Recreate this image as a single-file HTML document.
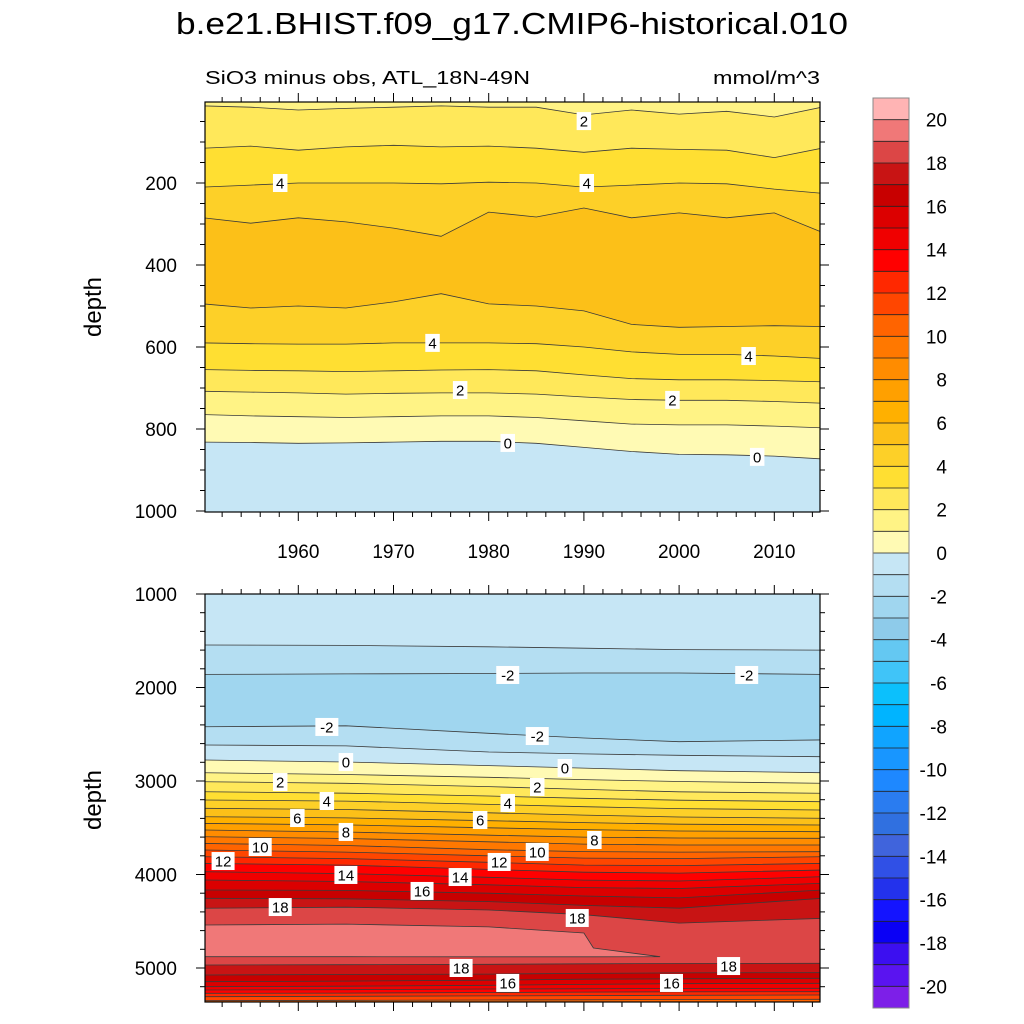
<!DOCTYPE html>
<html><head><meta charset="utf-8"><style>
html,body{margin:0;padding:0;background:#fff}
svg{display:block;font-family:"Liberation Sans",Arial,sans-serif}
</style></head><body>
<svg id="chart" width="1024" height="1024" viewBox="0 0 1024 1024" xmlns="http://www.w3.org/2000/svg">
<defs>
<clipPath id="clipTop"><rect x="205" y="102" width="615" height="410"/></clipPath>
<clipPath id="clipBot"><rect x="205" y="594" width="615" height="408"/></clipPath>
</defs>
<rect width="1024" height="1024" fill="#fff"/>
<text x="512" y="34" font-size="31" text-anchor="middle" textLength="672" lengthAdjust="spacingAndGlyphs">b.e21.BHIST.f09_g17.CMIP6-historical.010</text>
<text x="205" y="84" font-size="18" textLength="325" lengthAdjust="spacingAndGlyphs">SiO3 minus obs, ATL_18N-49N</text>
<text x="820" y="84" font-size="18" text-anchor="end" textLength="107" lengthAdjust="spacingAndGlyphs">mmol/m^3</text>
<g id="topFill" clip-path="url(#clipTop)"></g>
<g id="botFill" clip-path="url(#clipBot)"></g>
<g id="axes"></g>
<g id="labels"></g>
<g id="cbar"></g>
<text transform="translate(101,307) rotate(-90)" font-size="24" text-anchor="middle">depth</text>
<text transform="translate(101,800) rotate(-90)" font-size="24" text-anchor="middle">depth</text>
</svg>
<script>
// ---------- data ----------
const topYears = [1950,1955,1960,1965,1970,1975,1980,1985,1990,1995,2000,2005,2010,2015];
const topBandStart = 1.5;
const topLevels = [2,3,4,5,5,4,3,2,1,0];
const topBelow = [2.5,3.5,4.5,5.5,4.5,3.5,2.5,1.5,0.5,-0.5];
const topL2a = [12,15,22,18,15,12,15,15,34,22,32,25,39,15];
const topL3a = [115,110,120,112,108,112,110,115,125,115,118,120,138,115];
const topL4a = [210,205,200,200,200,202,198,200,210,205,200,202,215,225];
const topL5a = [285,298,285,295,310,330,271,283,261,285,273,285,273,320];
const topL5b = [495,505,500,505,490,470,495,500,512,545,552,550,548,550];
const topL4b = [590,592,593,593,590,590,590,592,600,612,618,618,622,628];
const topL3b = [655,657,658,660,658,656,655,658,668,677,680,680,682,685];
const topL2b = [708,710,712,715,713,712,712,715,722,728,730,730,733,737];
const topL1b = [765,768,770,772,770,768,768,772,780,788,790,790,793,797];
const topL0 = [832,833,835,834,832,830,830,835,845,855,862,863,866,873];
const topLines = [topL2a,topL3a,topL4a,topL5a,topL5b,topL4b,topL3b,topL2b,topL1b,topL0];

const botYears = [1950,1965,1980,1990,2000,2015];
const botBandStart = -0.5;
const botLevels = [-1,-2,-2,-1,0,1,2,3,4,5,6,7,8,9,10,11,12,13,14,15,16,17,18,18,17,16,15,14,13,12,11];
const botBelow = [-1.5,-2.5,-1.5,-0.5,0.5,1.5,2.5,3.5,4.5,5.5,6.5,7.5,8.5,9.5,10.5,11.5,12.5,13.5,14.5,15.5,16.5,17.5,18.5,17.5,16.5,15.5,14.5,13.5,12.5,11.5,10.5];
const botLines = [
 [1545,1550,1565,1580,1595,1600],
 [1860,1855,1850,1845,1845,1860],
 [2420,2410,2490,2540,2580,2560],
 [2615,2625,2690,2710,2725,2740],
 [2775,2797,2835,2862,2890,2911],
 [2911,2930,2960,2985,3005,3025],
 [3007,3025,3060,3090,3115,3132],
 [3114,3130,3160,3185,3205,3221],
 [3203,3215,3250,3275,3295,3310],
 [3292,3305,3340,3365,3385,3399],
 [3382,3395,3425,3445,3462,3471],
 [3453,3470,3500,3520,3535,3542],
 [3524,3545,3580,3600,3610,3613],
 [3596,3615,3650,3675,3685,3684],
 [3667,3690,3735,3755,3760,3756],
 [3738,3760,3800,3825,3830,3810],
 [3810,3830,3870,3900,3905,3881],
 [3881,3900,3945,3975,3985,3952],
 [3970,3990,4030,4060,4070,4024],
 [4059,4075,4110,4140,4150,4094],
 [4166,4170,4200,4230,4250,4166],
 [4255,4260,4290,4330,4360,4255],
 [4362,4350,4380,4430,4520,4469],
 [4968,4965,4960,4955,4952,4950],
 [5075,5070,5065,5058,5052,5050],
 [5146,5140,5130,5120,5115,5110],
 [5200,5195,5185,5175,5168,5164],
 [5235,5232,5225,5222,5219,5217],
 [5271,5268,5262,5258,5255,5253],
 [5307,5303,5298,5295,5292,5289],
 [5350,5345,5342,5340,5337,5335]
];
const patchYears = [1950,1965,1980,1990,1991,1998];
const patchUpper = [4540,4530,4560,4626,4786,4879];
const patchLower = [4879,4879,4880,4880,4880,4879];
const patchValue = 19.5;

const colorbarLevels = [20,18,16,14,12,10,8,6,4,2,0,-2,-4,-6,-8,-10,-12,-14,-16,-18,-20];
const xTickYears = [1960,1970,1980,1990,2000,2010];
const topDepthTicks = [200,400,600,800,1000];
const botDepthTicks = [1000,2000,3000,4000,5000];

const topLabelYears = [1990.0,1958.1,1990.3,1974.1,2007.3,1977.0,1999.3,1982.0,2008.2];
const topLabelDepths = [49,200,200,590,622,705,729,834,868];
const topLabelText = ["2","4","4","4","4","2","2","0","0"];
const botLabelYears = [1982.0,2007.1,1963.0,1985.1,1965.0,1988.0,1958.1,1985.1,1963.0,1982.0,1959.9,1979.1,1965.0,1991.1,1956.0,1985.1,1952.1,1981.1,1965.0,1977.0,1973.0,1958.1,1989.3,1977.1,2005.2,1982.0,1999.2];
const botLabelDepths = [1866,1866,2422,2519,2797,2861,3011,3064,3214,3235,3396,3417,3545,3631,3706,3759,3856,3866,4005,4027,4176,4348,4465,5000,4979,5160,5160];
const botLabelText = ["-2","-2","-2","-2","0","0","2","2","4","4","6","6","8","8","10","10","12","12","14","14","16","18","18","18","18","16","16"];

// ---------- colour map (bins from < -20 up to > 20) ----------
const palette = ['#7d1fe8','#5a14f0','#3c0ff0','#0a00f5','#1414ff','#2332ec','#3050e6','#4064dc','#3070e0','#2a7cf0','#1e88ff','#1896ff','#10a4ff','#00b4ff','#0cc0fc','#40c4f8','#64c8f2','#8ecbea','#a0d6ef','#b4def2','#c6e6f5','#fffab4','#fff385','#ffe85a','#ffdf32','#fdd028','#fcc018','#ffb000','#ffa000','#ff8c00','#ff7800','#ff6400','#ff4600','#ff2800','#ff0000','#f00000','#dc0000','#c80000','#c81414','#dc4646','#f07878','#ffb4b4'];
function colorOf(v){let i=Math.floor(v)+21;i=Math.max(0,Math.min(41,i));return palette[i];}

// ---------- axes ----------
const X0=205,X1=820;
function xs(yr){return X0+(yr-1950.2)*(X1-X0)/(2014.8-1950.2);}
function yTop(d){return 101+d*0.41;}
function yBot(d){return 594+(d-1000)*0.0935;}
const NS='http://www.w3.org/2000/svg';
function mk(tag,attrs,parent){const e=document.createElementNS(NS,tag);for(const k in attrs)e.setAttribute(k,attrs[k]);parent.appendChild(e);return e;}

function drawPanel(g,years,lines,below,startVal,yf,bottomPx,nameP){
  const bg=mk('rect',{x:X0,y:0,width:X1-X0,height:1024,fill:colorOf(startVal)},g);
  
  
  lines.forEach((ln,i)=>{
    let pts=years.map((yr,j)=>xs(yr).toFixed(1)+','+yf(ln[j]).toFixed(1));
    const poly=mk('polygon',{points:pts.join(' ')+' '+xs(years[years.length-1]).toFixed(1)+','+bottomPx+' '+xs(years[0]).toFixed(1)+','+bottomPx,fill:colorOf(below[i])},g);
    
    
  });
  lines.forEach((ln,i)=>{
    const pl=mk('polyline',{points:years.map((yr,j)=>xs(yr).toFixed(1)+','+yf(ln[j]).toFixed(1)).join(' '),fill:'none',stroke:'#3a3a3a','stroke-width':0.8},g);
    
    
  });
}
drawPanel(document.getElementById('topFill'),topYears,topLines,topBelow,topBandStart,yTop,520,'top');
const gb=document.getElementById('botFill');
drawPanel(gb,botYears,botLines,botBelow,botBandStart,yBot,1010,'bottom');
// pink patch
{
  const up=patchYears.map((yr,j)=>xs(yr).toFixed(1)+','+yBot(patchUpper[j]).toFixed(1));
  const lo=patchYears.map((yr,j)=>xs(yr).toFixed(1)+','+yBot(patchLower[j]).toFixed(1)).reverse();
  const p=mk('polygon',{points:up.concat(lo).join(' '),fill:colorOf(patchValue),stroke:'#3a3a3a','stroke-width':0.8},gb);
  
  
}

const ax=document.getElementById('axes');
function frame(y0,y1,dTicks,minorStep,dMin,dMax,yf,showX,nameP){
  const r=mk('rect',{x:X0,y:y0,width:X1-X0,height:y1-y0,fill:'none',stroke:'#000','stroke-width':1.2},ax);
  
  
  for(let yr=1952;yr<=2014;yr+=2){
    const major=yr%10===0, L=major?9:5, x=xs(yr);
    mk('line',{x1:x,y1:y0,x2:x,y2:y0-L,stroke:'#000','stroke-width':1},ax);
    mk('line',{x1:x,y1:y1,x2:x,y2:y1+L,stroke:'#000','stroke-width':1},ax);
  }
  for(let d=dMin;d<=dMax;d+=minorStep){
    const y=yf(d); if(y<y0-0.5||y>y1+0.5) continue;
    const major=dTicks.includes(d), L=major?9:5;
    mk('line',{x1:X0,y1:y,x2:X0-L,y2:y,stroke:'#000','stroke-width':1},ax);
    mk('line',{x1:X1,y1:y,x2:X1+L,y2:y,stroke:'#000','stroke-width':1},ax);
  }
  dTicks.forEach(d=>{
    const t=mk('text',{x:177,y:yf(d)+7,'font-size':19,'text-anchor':'end'},ax);
    t.textContent=d;
    
    
  });
  if(showX){
    xTickYears.forEach(yr=>{
      const t=mk('text',{x:xs(yr),y:558,'font-size':19,'text-anchor':'middle'},ax);
      t.textContent=yr;
      
      
    });
  }
}
frame(102,512,topDepthTicks,50,0,1000,yTop,true,'top');
frame(594,1002,botDepthTicks,200,1000,5400,yBot,false,'bottom');

// contour labels
const lg=document.getElementById('labels');
function putLabels(ys,ds,ts,yf,nameP){
  ys.forEach((yr,i)=>{
    const x=xs(yr), y=yf(ds[i]), w=ts[i].length*8.5+6;
    const r=mk('rect',{x:x-w/2,y:y-9,width:w,height:18,fill:'#fff'},lg);
    
    
    const t=mk('text',{x:x,y:y+5.5,'font-size':15,'text-anchor':'middle'},lg);
    t.textContent=ts[i];
    
    
  });
}
putLabels(topLabelYears,topLabelDepths,topLabelText,yTop,'top');
putLabels(botLabelYears,botLabelDepths,botLabelText,yBot,'bottom');

// colorbar
const cb=document.getElementById('cbar');
const CBX=873,CBW=36,CBT=98,CBH=(1008-98)/42;
for(let i=0;i<42;i++){
  const v=20.5-i;
  const r=mk('rect',{x:CBX,y:CBT+i*CBH,width:CBW,height:CBH+0.3,fill:colorOf(v)},cb);
  
  
  if(i>0) mk('line',{x1:CBX,y1:CBT+i*CBH,x2:CBX+CBW,y2:CBT+i*CBH,stroke:'#222','stroke-width':0.8},cb);
}
mk('rect',{x:CBX,y:CBT,width:CBW,height:42*CBH,fill:'none',stroke:'#888','stroke-width':1},cb);
colorbarLevels.forEach(v=>{
  const y=CBT+(21-v)*CBH;
  const t=mk('text',{x:947,y:y+7,'font-size':19,'text-anchor':'end'},cb);
  t.textContent=v;
  
  
});
</script>
</body></html>
